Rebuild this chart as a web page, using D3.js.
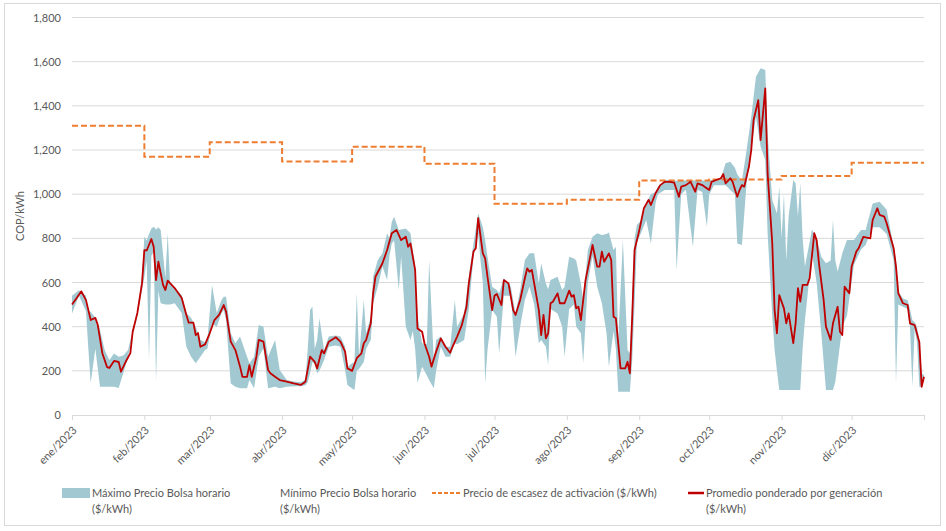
<!DOCTYPE html>
<html><head><meta charset="utf-8">
<script src="https://cdn.jsdelivr.net/npm/d3@7"></script>
<style>
body{margin:0;background:#fff}
svg{display:block}
text{font-family:Lato,"Open Sans",sans-serif;fill:#595959}
</style>
</head><body>
<svg id="chart" width="946" height="531"></svg>
<script>
const monthLabels = ["ene/2023","feb/2023","mar/2023","abr/2023","may/2023","jun/2023","jul/2023","ago/2023","sep/2023","oct/2023","nov/2023","dic/2023"];
const yTicks = [0,200,400,600,800,1000,1200,1400,1600,1800];
const scarcityValues = [1310,1170,1235,1148,1215,1138,957,975,1062,1066,1082,1142];

const avgDays = [0,2,4,6,8,10,11,13,15,16,18,20,21,23,25,26,28,30,31,32,34,35,36,37,39,40,41,44,47,49,50,52,53,54,55,57,59,61,63,65,66,68,70,72,73,75,76,77,79,80,82,84,85,87,89,92,95,98,100,102,104,105,107,108,110,113,115,117,118,120,122,124,125,126,128,129,130,133,135,137,139,141,143,144,145,147,148,150,151,153,154,156,158,160,162,163,165,167,169,170,172,173,174,176,177,178,180,181,182,184,185,187,189,190,192,194,195,196,197,198,200,201,202,203,204,205,206,208,209,211,213,214,215,216,217,218,220,222,223,225,226,227,228,230,231,232,233,234,235,237,238,239,240,241,243,245,247,248,250,252,254,256,258,260,261,263,265,267,268,270,271,273,274,276,278,279,280,282,283,285,286,287,288,290,291,292,294,295,297,298,300,301,302,303,305,306,307,309,310,311,312,313,315,316,318,319,320,322,323,325,326,328,329,330,331,333,334,336,337,339,342,343,345,346,348,349,351,352,353,354,356,358,359,361,363,364,365];
const avgValues = [500,530,560,520,430,440,410,280,217,213,245,240,196,241,280,377,462,597,747,745,797,762,611,694,589,566,608,575,530,453,418,418,362,371,309,320,370,430,453,498,468,332,294,219,173,173,226,173,264,340,332,204,189,173,158,151,143,136,151,264,241,211,294,279,332,352,332,287,211,200,257,279,325,340,415,551,626,687,747,823,838,792,807,762,777,657,392,377,325,264,219,287,347,309,282,309,355,407,490,596,740,755,891,732,709,626,475,540,548,498,611,596,475,453,521,619,664,649,657,596,475,362,453,347,370,506,513,551,506,506,563,536,543,483,490,430,611,717,770,672,672,740,694,732,702,445,438,325,211,211,241,189,445,747,835,936,974,951,1004,1041,1056,1056,1052,988,1034,1041,1056,1011,1049,1041,1034,1019,1056,1064,1072,1091,1049,1072,1056,988,1019,1041,1034,1124,1200,1336,1426,1245,1479,1094,777,475,370,543,483,415,460,325,415,574,513,589,589,619,823,792,687,521,400,340,415,490,377,362,581,551,672,740,755,807,800,883,936,906,898,868,792,755,672,551,506,498,415,407,330,128,173];

const bandDays = [0,3,6,7,8,10,12,14,16,18,20,22,24,26,28,30,31,32,33,34,35,36,37,38,40,41,42,44,47,49,51,53,55,57,58,60,62,64,65,66,68,70,72,75,76,78,80,82,84,87,89,92,95,98,100,101,102,103,104,105,106,108,110,113,115,117,118,120,121,122,123,125,126,128,129,131,133,135,136,137,138,140,141,143,145,146,147,148,150,152,153,155,156,158,160,162,164,165,168,170,172,174,175,176,177,178,180,182,183,185,188,190,192,194,196,198,200,201,203,204,205,208,210,211,213,215,216,218,219,221,223,225,227,229,230,232,233,234,236,238,239,240,241,242,244,246,248,250,251,254,258,259,261,263,266,268,270,272,273,275,278,280,282,284,285,287,289,291,293,295,297,298,300,301,302,303,304,305,306,307,309,310,311,312,313,314,317,319,321,323,325,326,327,328,330,332,335,338,340,343,346,349,352,353,354,356,358,359,360,361,362,363,364,365];
const maxValues = [540,565,540,470,468,440,385,294,249,279,264,270,294,385,470,626,807,790,820,845,853,840,850,838,620,823,600,575,543,462,440,400,340,330,340,589,462,520,536,536,370,325,355,264,234,264,407,400,264,340,204,158,152,148,160,300,475,490,300,340,438,294,355,360,355,309,219,234,240,551,264,521,370,445,626,702,732,823,800,875,898,838,840,845,823,747,680,445,325,320,702,249,340,355,309,309,521,400,460,626,777,913,883,850,792,717,581,566,551,619,581,460,566,702,732,732,596,687,596,570,611,626,566,580,717,709,700,596,521,747,807,823,815,820,826,747,762,340,792,294,280,521,800,860,883,960,1000,1010,1034,1064,1064,1060,1062,1062,1062,1062,1062,1060,1062,1066,1072,1140,1147,1120,1090,1060,1200,1351,1532,1570,1562,1275,974,943,913,1034,800,1000,700,900,1064,1049,900,1050,800,672,840,800,717,687,700,883,700,650,732,792,792,838,838,958,966,930,762,700,560,528,520,480,430,420,400,340,189,180];
const minValues = [460,540,470,300,145,300,128,128,128,128,122,190,264,360,450,566,626,700,249,720,740,151,560,506,500,500,500,506,462,309,264,234,264,294,300,415,400,460,475,430,143,128,121,121,158,121,264,302,121,128,121,128,130,130,135,150,189,240,230,189,200,249,309,315,309,204,136,120,113,200,210,240,300,340,506,581,672,611,720,777,790,566,717,400,340,380,300,145,219,180,158,121,200,309,264,264,325,320,340,480,720,823,700,600,143,294,475,445,279,540,540,264,400,521,581,500,325,340,309,226,480,460,400,264,480,500,400,370,234,600,720,581,506,370,219,380,300,105,105,105,105,250,500,780,830,883,777,960,1000,1019,1019,657,1000,1020,762,1020,1010,853,1000,1040,1040,1040,1019,1000,777,770,1050,1200,1351,1215,1155,823,445,294,200,113,113,113,113,113,113,113,113,113,300,430,732,600,370,113,113,113,150,234,400,450,680,750,770,850,850,820,700,143,500,490,480,400,128,390,330,128,128,160];

const legendLabels = ["Máximo Precio Bolsa horario","Mínimo Precio Bolsa horario","Precio de escasez de activación ($/kWh)","Promedio ponderado por generación"];
const unitLabel = "($/kWh)";
const yTitle = "COP/kWh";

const plotLeft = 72, plotRight = 924, plotTop = 17.5, plotBottom = 415;
const svg = d3.select("#chart");
const start = new Date(2023,0,1);
const toDate = d => d3.timeDay.offset(start, d);
const x = d3.scaleTime().domain([start, new Date(2024,0,1)]).range([plotLeft, plotRight]);
const y = d3.scaleLinear().domain([0,1800]).range([plotBottom, plotTop]);

const bandColor = "#a2c9d2";
const orange = "#ED7D31";
const red = "#C00000";
const fontFam = "Lato,'Open Sans',sans-serif";

// border
svg.append("rect").attr("x",4.5).attr("y",3.5).attr("width",936).attr("height",522)
  .attr("fill","none").attr("stroke","#d9d9d9").attr("stroke-width",1);

// gridlines
svg.append("g").selectAll("line").data(yTicks.filter(t=>t>0)).join("line")
  .attr("x1",plotLeft).attr("x2",plotRight).attr("y1",d=>y(d)).attr("y2",d=>y(d))
  .attr("stroke","#d9d9d9").attr("stroke-width",1);

// y axis labels
const yAxis = d3.axisLeft(y).tickValues(yTicks).tickFormat(d3.format(",")).tickSize(0).tickPadding(11);
const yg = svg.append("g").attr("transform",`translate(${plotLeft},0)`).call(yAxis);
yg.select(".domain").remove();
yg.selectAll("text").style("font-size","11px").attr("fill","#595959").style("font-family",fontFam);

// x axis
const monthDates = d3.range(13).map(m => new Date(2023, m, 1));
const xAxis = d3.axisBottom(x).tickValues(monthDates).tickSize(5).tickFormat((d,i)=> i<12 ? monthLabels[i] : "");
const xg = svg.append("g").attr("transform",`translate(0,${plotBottom})`).call(xAxis);
xg.select(".domain").attr("stroke","#d9d9d9");
xg.selectAll(".tick line").attr("stroke","#d9d9d9");
xg.selectAll("text").style("font-size","11px").attr("fill","#595959").style("font-family",fontFam)
  .attr("text-anchor","end").attr("dy",null).attr("y",null)
  .attr("transform","translate(5,16) rotate(-45)");

// y title
svg.append("text").attr("transform","translate(24,216) rotate(-90)").attr("text-anchor","middle")
  .style("font-size","11px").text(yTitle);

// band
const bandData = bandDays.map((d,i)=>({date:toDate(d), hi:maxValues[i], lo:minValues[i]}));
svg.append("path").datum(bandData)
  .attr("d", d3.area().x(d=>x(d.date)).y0(d=>y(d.lo)).y1(d=>y(d.hi)))
  .attr("fill", bandColor).attr("stroke","none");

// scarcity step
const scarData = monthDates.map((d,i)=>({date:d, v:scarcityValues[Math.min(i,11)]}));
svg.append("path").datum(scarData)
  .attr("d", d3.line().x(d=>x(d.date)).y(d=>y(d.v)).curve(d3.curveStepAfter))
  .attr("fill","none").attr("stroke",orange).attr("stroke-width",2).attr("stroke-dasharray","6,3");

// average
const avgData = avgDays.map((d,i)=>({date:toDate(d), v:avgValues[i]}));
svg.append("path").datum(avgData)
  .attr("d", d3.line().x(d=>x(d.date)).y(d=>y(d.v)))
  .attr("fill","none").attr("stroke",red).attr("stroke-width",1.8).attr("stroke-linejoin","round");

// legend
const lg = svg.append("g").style("font-size","11px");
const ly = 493;
lg.append("rect").attr("x",62).attr("y",ly-5).attr("width",28).attr("height",10).attr("fill",bandColor);
lg.append("text").attr("x",92).attr("y",ly+4).text(legendLabels[0]);
lg.append("text").attr("x",92).attr("y",ly+20).text(unitLabel);
lg.append("text").attr("x",280).attr("y",ly+4).text(legendLabels[1]);
lg.append("text").attr("x",280).attr("y",ly+20).text(unitLabel);
lg.append("line").attr("x1",432).attr("x2",460).attr("y1",ly).attr("y2",ly)
  .attr("stroke",orange).attr("stroke-width",2).attr("stroke-dasharray","4,2");
lg.append("text").attr("x",463).attr("y",ly+4).text(legendLabels[2]);
lg.append("line").attr("x1",688).attr("x2",704).attr("y1",ly).attr("y2",ly)
  .attr("stroke",red).attr("stroke-width",2.5);
lg.append("text").attr("x",706).attr("y",ly+4).text(legendLabels[3]);
lg.append("text").attr("x",706).attr("y",ly+20).text(unitLabel);
</script>
</body></html>
